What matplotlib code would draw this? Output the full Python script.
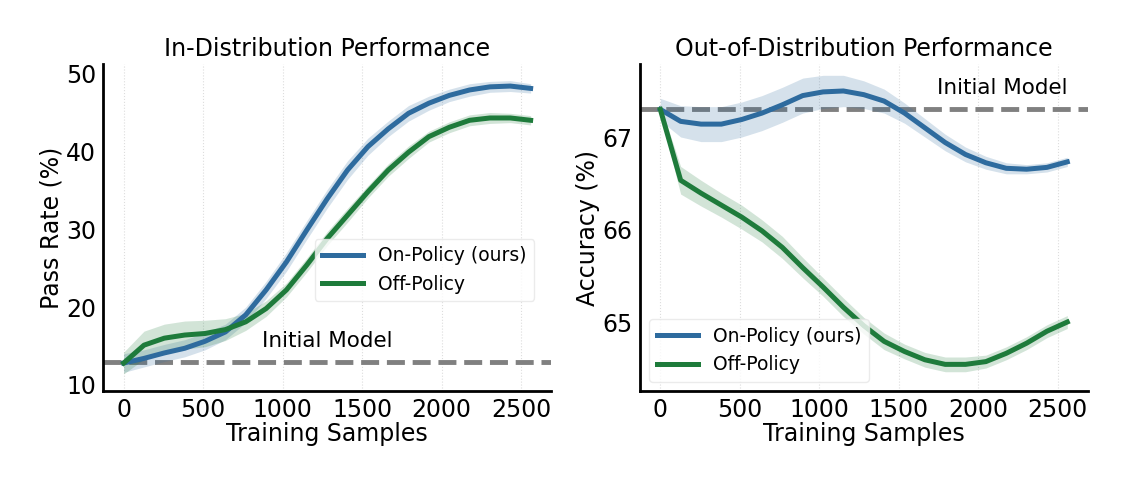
import numpy as np
import matplotlib
matplotlib.use("Agg")
import matplotlib.pyplot as plt

# training samples (step 128)
samples = np.arange(0, 2561, 128)

# in-distribution pass rate (%)
id_on_policy = [12.8, 13.4, 14.1, 14.7, 15.6, 16.8, 19.0, 22.2, 25.8, 29.9, 33.9,
                37.6, 40.6, 42.9, 44.9, 46.2, 47.2, 47.9, 48.3, 48.4, 48.1]
id_on_std = [1.2, 1.1, 1.1, 1.1, 1.1, 1.0, 1.0, 1.1, 1.2, 1.2, 1.2,
             1.2, 1.1, 1.0, 1.0, 0.9, 0.8, 0.8, 0.7, 0.7, 0.6]
id_off_policy = [12.8, 15.1, 16.0, 16.4, 16.6, 17.1, 18.1, 19.8, 22.2, 25.4, 28.8,
                 31.8, 34.8, 37.6, 39.9, 41.9, 43.1, 44.0, 44.3, 44.3, 44.0]
id_off_std = [1.4, 1.8, 1.8, 1.8, 1.7, 1.4, 1.1, 1.0, 0.9, 0.9, 0.9,
              0.9, 0.8, 0.8, 0.8, 0.7, 0.7, 0.7, 0.7, 0.6, 0.6]
id_initial = 12.9

# out-of-distribution accuracy (%)
ood_on_policy = [67.31, 67.18, 67.15, 67.15, 67.20, 67.27, 67.36, 67.46, 67.50, 67.51, 67.47,
                 67.40, 67.27, 67.11, 66.95, 66.82, 66.73, 66.67, 66.66, 66.68, 66.74]
ood_on_std = [0.12, 0.17, 0.19, 0.19, 0.19, 0.19, 0.19, 0.19, 0.18, 0.17, 0.15,
              0.13, 0.11, 0.10, 0.09, 0.08, 0.07, 0.06, 0.05, 0.05, 0.05]
ood_off_policy = [67.31, 66.54, 66.40, 66.27, 66.14, 65.99, 65.81, 65.59, 65.38, 65.16, 64.96,
                  64.79, 64.68, 64.59, 64.54, 64.54, 64.57, 64.66, 64.77, 64.90, 65.00]
ood_off_std = [0.05, 0.15, 0.14, 0.13, 0.13, 0.12, 0.12, 0.11, 0.10, 0.10, 0.09,
               0.09, 0.08, 0.08, 0.08, 0.08, 0.07, 0.07, 0.07, 0.07, 0.07]
ood_initial = 67.31

blue = "#2E6B9E"
green = "#1E7B3B"

fig, axes = plt.subplots(1, 2, figsize=(11.28, 4.87), dpi=100)
fig.subplots_adjust(left=0.0913, right=0.9645, top=0.868, bottom=0.197, wspace=0.197)


def draw_panel(ax, on, on_std, off, off_std, initial, title, ylabel, ylim, yticks,
               text_xy, text_ha, legend_kw):
    on, on_std = np.array(on), np.array(on_std)
    off, off_std = np.array(off), np.array(off_std)
    ax.axhline(initial, color="gray", linestyle="--", linewidth=3.5, zorder=1)
    ax.fill_between(samples, on - on_std, on + on_std, color=blue, alpha=0.2, linewidth=0, zorder=2)
    ax.fill_between(samples, off - off_std, off + off_std, color=green, alpha=0.2, linewidth=0, zorder=2)
    ax.plot(samples, on, color=blue, linewidth=3.6, label="On-Policy (ours)", zorder=3)
    ax.plot(samples, off, color=green, linewidth=3.6, label="Off-Policy", zorder=3)
    ax.text(text_xy[0], text_xy[1], "Initial Model", fontsize=15.5, ha=text_ha, va="center")

    ax.set_title(title, fontsize=17)
    ax.set_xlabel("Training Samples", fontsize=17, labelpad=0)
    ax.set_ylabel(ylabel, fontsize=17, labelpad=2)
    ax.set_xlim(-130, 2690)
    ax.set_ylim(*ylim)
    ax.set_xticks([0, 500, 1000, 1500, 2000, 2500])
    ax.set_yticks(yticks)
    ax.tick_params(labelsize=17, length=0, pad=5)
    ax.grid(axis="x", color="#dddddd", linestyle=":", linewidth=0.8)
    ax.set_axisbelow(True)
    for side in ["top", "right"]:
        ax.spines[side].set_visible(False)
    for side in ["left", "bottom"]:
        ax.spines[side].set_linewidth(2)
        ax.spines[side].set_color("black")
    leg = ax.legend(fontsize=13.5, handlelength=2.2, **legend_kw)
    leg.get_frame().set_edgecolor("#e6e6e6")


draw_panel(axes[0], id_on_policy, id_on_std, id_off_policy, id_off_std, id_initial,
           "In-Distribution Performance", "Pass Rate (%)", (9.2, 51.2), [10, 20, 30, 40, 50],
           (1280, 15.6), "center",
           dict(loc="lower right", bbox_to_anchor=(0.962, 0.275), borderaxespad=0))
draw_panel(axes[1], ood_on_policy, ood_on_std, ood_off_policy, ood_off_std, ood_initial,
           "Out-of-Distribution Performance", "Accuracy (%)", (64.25, 67.8), [65, 66, 67],
           (2560, 67.54), "right",
           dict(loc="lower left"))

fig.savefig("out.png", dpi=100)
